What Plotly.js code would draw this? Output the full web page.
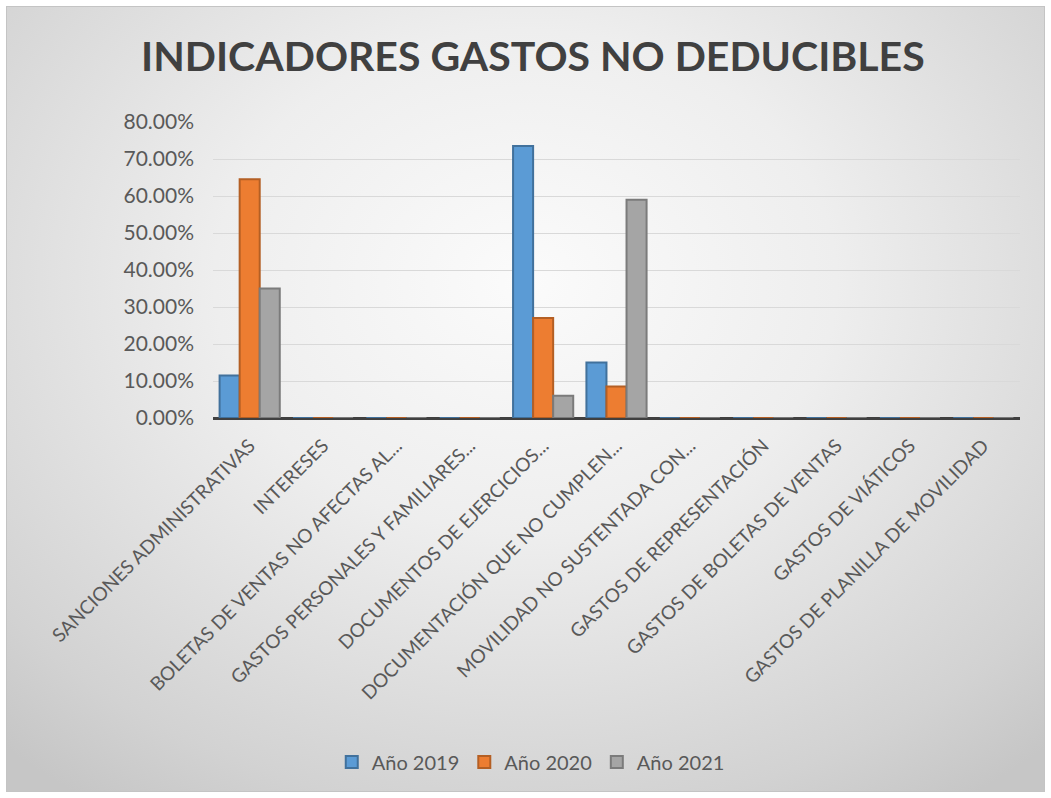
<!DOCTYPE html>
<html>
<head>
<meta charset="utf-8">
<script src="https://cdn.plot.ly/plotly-3.0.1.min.js"></script>
<style>
html,body{margin:0;padding:0;background:#ffffff;}
body{width:1051px;height:798px;overflow:hidden;position:relative;}
#bg{position:absolute;left:6px;top:6px;width:1039px;height:786px;box-sizing:border-box;border:1px solid #c4c4c4;
background:radial-gradient(ellipse 75% 80% at 50% 35%, #fbfbfb 0%, #eeeeee 40%, #d2d2d2 85%, #c6c6c6 100%);}
#chart{position:absolute;left:0;top:0;width:1051px;height:798px;}
</style>
</head>
<body>
<div id="bg"></div>
<div id="chart"></div>
<script>
const categories = [
  "SANCIONES ADMINISTRATIVAS",
  "INTERESES",
  "BOLETAS DE VENTAS NO AFECTAS AL...",
  "GASTOS PERSONALES Y FAMILIARES...",
  "DOCUMENTOS DE EJERCICIOS...",
  "DOCUMENTACIÓN QUE NO CUMPLEN...",
  "MOVILIDAD NO SUSTENTADA CON...",
  "GASTOS DE REPRESENTACIÓN",
  "GASTOS DE BOLETAS DE VENTAS",
  "GASTOS DE VIÁTICOS",
  "GASTOS DE PLANILLA DE MOVILIDAD"
];
const year2019 = [0.115, 0, 0, 0, 0.735, 0.15, 0, 0, 0, 0, 0];
const year2020 = [0.645, 0, 0, 0, 0.27, 0.085, 0, 0, 0, 0, 0];
const year2021 = [0.35, 0, 0, 0, 0.06, 0.59, 0, 0, 0, 0, 0];
const seriesNames = ["Año 2019", "Año 2020", "Año 2021"];
const yTicks = [0, 0.1, 0.2, 0.3, 0.4, 0.5, 0.6, 0.7, 0.8];

const fills = ["#5b9bd5", "#ed7d31", "#a5a5a5"];
const edges = ["#41719c", "#b45f24", "#7b7b7b"];
const data = [year2019, year2020, year2021].map((vals, i) => ({
  type: "bar",
  name: seriesNames[i],
  x: categories,
  y: vals,
  marker: {color: fills[i], line: {color: edges[i], width: 2}},
  hoverinfo: "x+y+name"
}));

const layout = {
  width: 1051, height: 798,
  paper_bgcolor: "rgba(0,0,0,0)",
  plot_bgcolor: "rgba(0,0,0,0)",
  margin: {l: 213, r: 31, t: 122, b: 380},
  font: {family: "Lato, 'Open Sans', sans-serif", color: "#595959"},
  title: {
    text: "<b>INDICADORES GASTOS NO DEDUCIBLES</b>",
    font: {family: "Lato, 'Open Sans', sans-serif", size: 41, color: "#404040"},
    xref: "container", x: 0.507, xanchor: "center",
    yref: "container", y: 0.929, yanchor: "middle"
  },
  barmode: "group",
  bargap: 0.18,
  bargroupgap: 0,
  xaxis: {
    type: "category",
    tickangle: -45,
    tickfont: {size: 19, color: "#595959"},
    showgrid: false,
    showline: false,
    zeroline: false,
    ticks: "",
    ticklabelstandoff: 12
  },
  yaxis: {
    range: [0, 0.8],
    tickvals: yTicks,
    tickformat: ".2%",
    tickfont: {size: 21, color: "#595959"},
    showgrid: true,
    gridcolor: "#d9d9d9",
    gridwidth: 1,
    zeroline: true,
    zerolinecolor: "#404040",
    zerolinewidth: 3,
    showline: false,
    ticks: "",
    ticklabelstandoff: 18
  },
  showlegend: true,
  legend: {
    orientation: "h",
    xref: "container", x: 0.505, xanchor: "center",
    yref: "container", y: 0.045, yanchor: "middle",
    font: {size: 20, color: "#595959"},
    bgcolor: "rgba(0,0,0,0)",
    itemwidth: 30,
    traceorder: "normal"
  }
};

Plotly.newPlot("chart", data, layout, {displayModeBar: false, staticPlot: true});
</script>
</body>
</html>
